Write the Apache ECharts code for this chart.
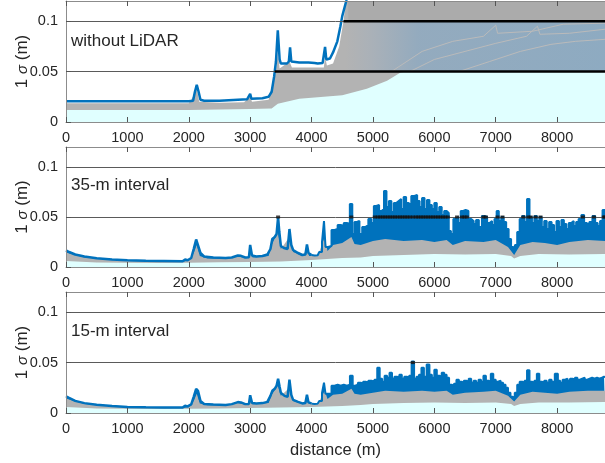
<!DOCTYPE html>
<html>
<head>
<meta charset="utf-8">
<script src="https://cdn.jsdelivr.net/npm/echarts@6/dist/echarts.min.js"></script>
<style>
  html, body { margin: 0; padding: 0; background: #fff; }
  #main { width: 605px; height: 463px; }
</style>
</head>
<body>
<div id="main"></div>
<script>
// 横轴范围 (m)
const xMax = 8780;
const yMax = 0.12;
const panelNames = ['without LiDAR', '35-m interval', '15-m interval'];

// ---------- panel 1: without LiDAR ----------
const blue1 = [[0,0.0205],[500,0.0205],[1000,0.0205],[1500,0.0205],[2000,0.0205],[2070,0.021],[2100,0.03],[2130,0.037],[2160,0.03],[2190,0.022],[2250,0.021],[2500,0.021],[2800,0.022],[2950,0.0225],[2980,0.0228],[3000,0.028],[3020,0.023],[3200,0.0235],[3300,0.025],[3350,0.03],[3390,0.045],[3420,0.06],[3450,0.091],[3480,0.062],[3500,0.058],[3600,0.058],[3630,0.06],[3650,0.074],[3670,0.06],[3800,0.059],[3950,0.059],[4050,0.0585],[4100,0.058],[4180,0.0585],[4220,0.0745],[4240,0.062],[4300,0.063],[4350,0.069],[4420,0.08],[4470,0.095],[4500,0.105],[4565,0.12],[4600,0.135]];
const gray1 = [[0,0.0185],[2000,0.0185],[2100,0.028],[2130,0.033],[2170,0.02],[2500,0.019],[2900,0.0195],[3000,0.025],[3030,0.02],[3300,0.022],[3380,0.04],[3420,0.05],[3450,0.07],[3480,0.053],[3500,0.053],[3640,0.06],[3680,0.054],[4200,0.054],[4220,0.065],[4250,0.056],[4350,0.058],[4450,0.075],[4520,0.1],[4560,0.12],[8780,0.12]];
const cyan1 = [[0,0.012],[1000,0.012],[2000,0.0118],[2500,0.0125],[3000,0.013],[3350,0.0135],[3450,0.018],[3800,0.023],[4200,0.025],[4500,0.0265],[4900,0.033],[5230,0.041],[5450,0.049],[5550,0.05],[8780,0.05]];
const steel1 = [[4550,0.1],[8780,0.1]];
const dark1 = [[4600,0.12],[8780,0.12]];
const runs1 = [
    [[5600,0.05],[6000,0.062],[6500,0.07],[7000,0.078],[7500,0.085],[7680,0.095],[7720,0.087],[8200,0.088],[8780,0.092]],
    [[5300,0.05],[5800,0.07],[6300,0.08],[6800,0.085],[7000,0.096],[7030,0.088],[7600,0.09],[8100,0.097],[8780,0.098]],
    [[6400,0.05],[6900,0.06],[7400,0.07],[7900,0.077],[8300,0.08],[8780,0.082]]
];
const black1a = [[3400,0.05],[8780,0.05]];
const black1b = [[4520,0.1],[8780,0.1]];

// ---------- panel 2: 35-m interval ----------
const blue2a = [[0,0.0166],[50,0.015],[150,0.0125],[300,0.0105],[500,0.0088],[750,0.0075],[1000,0.0068],[1300,0.0062],[1600,0.006],[1900,0.0058],[1940,0.0075],[1980,0.0068],[2040,0.009],[2080,0.018],[2120,0.0275],[2150,0.026],[2190,0.014],[2250,0.0105],[2400,0.0095],[2600,0.009],[2700,0.0095],[2800,0.0115],[2850,0.0112],[2920,0.0095],[2980,0.0098],[3000,0.022],[3030,0.0115],[3100,0.0105],[3200,0.011],[3280,0.0125],[3330,0.018],[3360,0.028],[3400,0.03],[3430,0.033],[3455,0.05],[3475,0.035],[3500,0.021],[3550,0.019],[3610,0.018],[3640,0.038],[3670,0.022],[3700,0.017],[3780,0.014],[3850,0.012],[3900,0.0125],[3925,0.0225],[3950,0.014],[4000,0.012]];
const blue2b = [[4000,0.012],[4050,0.0115],[4100,0.0118],[4150,0.015],[4190,0.025],[4215,0.046],[4240,0.02],[4300,0.021],[4350,0.037],[4400,0.038],[4450,0.042],[4500,0.041],[4550,0.044],[4600,0.043],[4647,0.063],[4680,0.033],[4720,0.045],[4760,0.046],[4800,0.033],[4850,0.04],[4900,0.042],[4950,0.048],[5000,0.044],[5030,0.061],[5080,0.062],[5120,0.056],[5160,0.058],[5200,0.076],[5240,0.06],[5280,0.066],[5320,0.055],[5360,0.064],[5400,0.066],[5440,0.068],[5480,0.058],[5520,0.07],[5560,0.064],[5600,0.062],[5650,0.071],[5700,0.072],[5740,0.066],[5780,0.06],[5820,0.069],[5860,0.058],[5900,0.067],[5940,0.062],[5980,0.058],[6020,0.064],[6060,0.055],[6100,0.06],[6140,0.052],[6180,0.056],[6220,0.054],[6250,0.036],[6290,0.033],[6330,0.048],[6370,0.05],[6410,0.044],[6450,0.056],[6490,0.057],[6530,0.056],[6580,0.048],[6620,0.046],[6660,0.043],[6700,0.047],[6750,0.04],[6800,0.051],[6840,0.05],[6880,0.044],[6920,0.046],[6960,0.042],[7000,0.048],[7030,0.056],[7070,0.046],[7110,0.05],[7150,0.045],[7190,0.038],[7230,0.028],[7270,0.02],[7300,0.015],[7330,0.022],[7370,0.035],[7410,0.048],[7450,0.051],[7490,0.045],[7530,0.068],[7570,0.05],[7610,0.044],[7650,0.051],[7690,0.046],[7730,0.05],[7770,0.04],[7810,0.046],[7850,0.038],[7890,0.045],[7930,0.042],[7970,0.035],[8010,0.046],[8050,0.04],[8090,0.047],[8130,0.043],[8170,0.038],[8210,0.044],[8250,0.046],[8290,0.041],[8330,0.045],[8370,0.048],[8420,0.052],[8460,0.044],[8500,0.042],[8550,0.045],[8600,0.051],[8640,0.044],[8680,0.041],[8720,0.046],[8760,0.057],[8780,0.057]];
const gray2 = [[0,0.0145],[300,0.0095],[1000,0.006],[1900,0.0052],[2000,0.0062],[2080,0.014],[2130,0.022],[2180,0.011],[2300,0.0085],[2600,0.0083],[2800,0.0105],[2950,0.0088],[3000,0.017],[3040,0.0095],[3300,0.011],[3350,0.022],[3450,0.035],[3500,0.018],[3640,0.03],[3700,0.015],[3850,0.011],[3925,0.018],[3960,0.011],[4100,0.011],[4215,0.03],[4260,0.016],[4350,0.022],[4500,0.024],[4650,0.03],[4700,0.023],[4800,0.022],[5000,0.026],[5200,0.028],[5500,0.026],[5800,0.027],[6000,0.025],[6200,0.027],[6300,0.022],[6500,0.026],[6800,0.025],[7000,0.027],[7200,0.02],[7300,0.012],[7400,0.022],[7600,0.025],[7800,0.024],[8000,0.022],[8200,0.025],[8500,0.027],[8780,0.026]];
const cyan2 = [[0,0.006],[500,0.0045],[1500,0.004],[2000,0.0042],[2500,0.0048],[3000,0.005],[3500,0.0055],[4000,0.007],[4500,0.009],[4800,0.0095],[5000,0.011],[5500,0.012],[6000,0.013],[6500,0.0125],[7000,0.013],[7250,0.011],[7300,0.0085],[7400,0.011],[7700,0.013],[8200,0.0125],[8780,0.013]];

// ---------- panel 3: 15-m interval ----------
const blue3a = [[0,0.0166],[50,0.015],[150,0.012],[300,0.0098],[500,0.0082],[750,0.007],[1000,0.006],[1300,0.0056],[1600,0.0054],[1900,0.0054],[1940,0.0072],[1980,0.0066],[2040,0.0085],[2080,0.016],[2120,0.024],[2150,0.022],[2190,0.012],[2250,0.009],[2400,0.0085],[2600,0.008],[2700,0.0088],[2800,0.0108],[2850,0.0105],[2920,0.0088],[2980,0.009],[3000,0.0176],[3030,0.01],[3100,0.0095],[3200,0.0098],[3280,0.011],[3330,0.017],[3360,0.022],[3400,0.024],[3430,0.027],[3455,0.034],[3480,0.026],[3500,0.02],[3560,0.017],[3610,0.016],[3640,0.033],[3670,0.018],[3700,0.013],[3780,0.011],[3850,0.0095],[3900,0.01],[3925,0.018],[3950,0.0105],[4000,0.0095]];
const blue3b = [[4000,0.0093],[4050,0.009],[4100,0.0093],[4150,0.012],[4190,0.02],[4215,0.03],[4240,0.019],[4300,0.019],[4350,0.027],[4400,0.028],[4450,0.027],[4500,0.028],[4550,0.027],[4600,0.028],[4650,0.037],[4690,0.027],[4730,0.028],[4780,0.03],[4820,0.029],[4860,0.031],[4900,0.03],[4950,0.032],[5000,0.031],[5050,0.033],[5090,0.045],[5130,0.034],[5170,0.031],[5210,0.037],[5250,0.035],[5290,0.04],[5330,0.034],[5370,0.036],[5410,0.035],[5450,0.038],[5490,0.034],[5530,0.036],[5570,0.035],[5610,0.037],[5650,0.051],[5690,0.034],[5730,0.036],[5770,0.038],[5810,0.045],[5850,0.036],[5900,0.048],[5940,0.038],[5980,0.035],[6020,0.043],[6060,0.037],[6100,0.036],[6140,0.04],[6180,0.038],[6220,0.035],[6260,0.028],[6300,0.027],[6340,0.029],[6380,0.033],[6420,0.031],[6460,0.03],[6500,0.032],[6540,0.031],[6580,0.034],[6620,0.03],[6660,0.032],[6700,0.03],[6740,0.033],[6780,0.031],[6820,0.037],[6860,0.032],[6900,0.031],[6940,0.039],[6980,0.033],[7020,0.031],[7060,0.032],[7100,0.03],[7140,0.028],[7180,0.025],[7220,0.02],[7260,0.016],[7290,0.0143],[7330,0.02],[7370,0.028],[7410,0.031],[7450,0.03],[7490,0.032],[7530,0.0424],[7570,0.031],[7610,0.03],[7650,0.032],[7690,0.039],[7730,0.031],[7770,0.03],[7810,0.032],[7850,0.03],[7890,0.033],[7930,0.031],[7995,0.039],[8030,0.032],[8070,0.03],[8110,0.033],[8150,0.034],[8190,0.032],[8230,0.034],[8270,0.033],[8310,0.035],[8350,0.033],[8390,0.034],[8430,0.035],[8470,0.033],[8510,0.034],[8550,0.035],[8590,0.034],[8630,0.035],[8670,0.034],[8710,0.035],[8750,0.036],[8780,0.0358]];
const gray3 = [[0,0.0145],[300,0.009],[1000,0.0055],[1900,0.005],[2000,0.0058],[2080,0.012],[2130,0.019],[2180,0.0095],[2300,0.0078],[2600,0.0075],[2800,0.0098],[2950,0.008],[3000,0.014],[3040,0.0088],[3300,0.0098],[3350,0.018],[3450,0.027],[3500,0.017],[3640,0.025],[3700,0.012],[3850,0.009],[3925,0.014],[3960,0.009],[4100,0.0088],[4215,0.022],[4260,0.014],[4350,0.018],[4500,0.019],[4650,0.024],[4700,0.019],[4800,0.018],[5000,0.02],[5200,0.022],[5500,0.021],[5800,0.022],[6000,0.021],[6200,0.022],[6300,0.018],[6500,0.02],[6800,0.021],[7000,0.022],[7200,0.017],[7300,0.0115],[7400,0.018],[7600,0.021],[7800,0.02],[8000,0.019],[8200,0.021],[8500,0.022],[8780,0.022]];
const cyan3 = [[0,0.006],[500,0.0045],[1500,0.004],[2000,0.0042],[2500,0.0045],[3000,0.005],[3500,0.0055],[4000,0.006],[4500,0.007],[4800,0.008],[5000,0.009],[5500,0.01],[6000,0.0105],[6500,0.01],[7000,0.0105],[7250,0.009],[7300,0.007],[7400,0.009],[7700,0.0105],[8200,0.0105],[8780,0.011]];

// 颜色
const BLUE = '#0072BD';
const GRAY = '#b3b3b3';
const CYAN = '#e0ffff';
const TXT = '#262626';
const FONT = '"Liberation Sans", Arial, sans-serif';

// 三个子图的位置
const grids = [
    {left: 66, right: 0, top: 1, height: 121},
    {left: 66, right: 0, top: 147, height: 120},
    {left: 66, right: 0, top: 292, height: 121}
].map(g => Object.assign(g, {containLabel: false, outerBoundsMode: 'none'}));

const xAxes = [];
const yAxes = [];
grids.forEach((g, i) => {
    xAxes.push({
        type: 'value', gridIndex: i, min: 0, max: xMax, interval: 1000,
        axisLine: {show: true, lineStyle: {color: '#8c8c8c'}},
        axisTick: {show: true, inside: true, length: 5, lineStyle: {color: '#555'}},
        axisLabel: {color: TXT, fontSize: 14.5, fontFamily: FONT, margin: 8, showMaxLabel: false,
            formatter: v => String(v)},
        splitLine: {show: false},
        name: i === 2 ? 'distance (m)' : '',
        nameLocation: 'middle', nameGap: 29, nameMoveOverlap: false,
        nameTextStyle: {color: TXT, fontSize: 16.5, fontFamily: FONT},
        z: 10
    });
    yAxes.push({
        type: 'value', gridIndex: i, min: 0, max: yMax, interval: 0.05,
        axisLine: {show: true, lineStyle: {color: '#8c8c8c'}},
        axisTick: {show: true, inside: true, length: 5, lineStyle: {color: '#555'}},
        axisLabel: {color: TXT, fontSize: 14.5, fontFamily: FONT, margin: 8, showMaxLabel: false,
            formatter: v => String(v)},
        splitLine: {show: true, lineStyle: {color: '#5a5a5a', width: 1}},
        name: '{a|1 }{b|σ}{a| (m)}',
        nameLocation: 'middle', nameGap: 35, nameRotate: 90, nameMoveOverlap: false,
        nameTextStyle: {
            color: TXT, fontFamily: FONT,
            rich: {
                a: {fontSize: 17, color: TXT, fontFamily: FONT},
                b: {fontSize: 15, color: TXT, fontFamily: FONT, fontStyle: 'italic'}
            }
        },
        z: 10
    });
});
// 顶部的框线和刻度
grids.forEach((g, i) => {
    xAxes.push({
        type: 'value', gridIndex: i, position: 'top', min: 0, max: xMax, interval: 1000,
        axisLine: {show: true, lineStyle: {color: '#8c8c8c'}},
        axisTick: {show: true, inside: true, length: 5, lineStyle: {color: '#555'}},
        axisLabel: {show: false},
        splitLine: {show: false},
        z: 10
    });
});

/**
 * 填充区域 (从 origin 到数据)
 */
const area = (data, color, idx, z, extra = {}) => Object.assign({
    type: 'line', data: data, xAxisIndex: idx, yAxisIndex: idx,
    symbol: 'none', silent: true, z: z,
    lineStyle: {width: 0},
    areaStyle: {color: color, opacity: 1, origin: 0}
}, extra);

/**
 * 线
 */
const line = (data, color, width, idx, z, extra = {}) => Object.assign({
    type: 'line', data: data, xAxisIndex: idx, yAxisIndex: idx,
    symbol: 'none', silent: true, z: z,
    lineStyle: {color: color, width: width}
}, extra);

const steelGradient = new echarts.graphic.LinearGradient(0, 0, 1, 0, [
    {offset: 0, color: '#b3b3b3'},
    {offset: 0.1, color: '#a6b0ba'},
    {offset: 0.28, color: '#86a7c3'},
    {offset: 1, color: '#7ea7c7'}
]);

// 超过0.05的点在0.05处画黑点
const overLine = (data, level) => data.filter(p => p[1] >= level).map(p => [p[0], level]);

const series = [];

// panel 1
series.push(area(gray1, GRAY, 0, 2));
series.push(area(dark1, '#a8a8a8', 0, 2, {areaStyle: {color: '#a8a8a8', origin: 0.1}}));
series.push(area(steel1, steelGradient, 0, 2, {areaStyle: {color: steelGradient, origin: 0.05}}));
runs1.forEach(r => series.push(line(r, '#bababa', 1, 0, 2)));
series.push(area(cyan1, CYAN, 0, 2));
series.push(line(blue1, BLUE, 2.5, 0, 3));
series.push(line(black1a, '#000', 2.5, 0, 12));
series.push(line(black1b, '#000', 2.5, 0, 12));

// panel 2, 3
[[blue2a, blue2b, gray2, cyan2, 1], [blue3a, blue3b, gray3, cyan3, 2]].forEach(p => {
    const [ba, bb, g, c, idx] = p;
    series.push(area(ba, BLUE, idx, 2));
    series.push(area(bb, BLUE, idx, 2, {step: 'middle'}));
    series.push(area(g, GRAY, idx, 2));
    series.push(area(c, CYAN, idx, 2));
    series.push(line(ba, BLUE, 2.5, idx, 3));
    series.push(line(bb, BLUE, 2, idx, 3, {step: 'middle'}));
    series.push({
        type: 'scatter', xAxisIndex: idx, yAxisIndex: idx, silent: true, z: 12,
        data: overLine(ba.concat(bb), 0.05),
        symbol: 'rect', symbolSize: [4, 3], itemStyle: {color: '#111'}
    });
});

// 子图标注
const labelY = [42, 186, 332];
const graphic = panelNames.map((t, i) => ({
    type: 'text', left: 71, top: labelY[i] - 9, z: 20,
    style: {text: t, fill: TXT, fontSize: 17, fontFamily: FONT}
}));

const myChart = echarts.init(document.getElementById('main'), null, {renderer: 'canvas'});
myChart.setOption({
    animation: false,
    grid: grids,
    xAxis: xAxes,
    yAxis: yAxes,
    series: series,
    graphic: graphic
});
</script>
</body>
</html>
